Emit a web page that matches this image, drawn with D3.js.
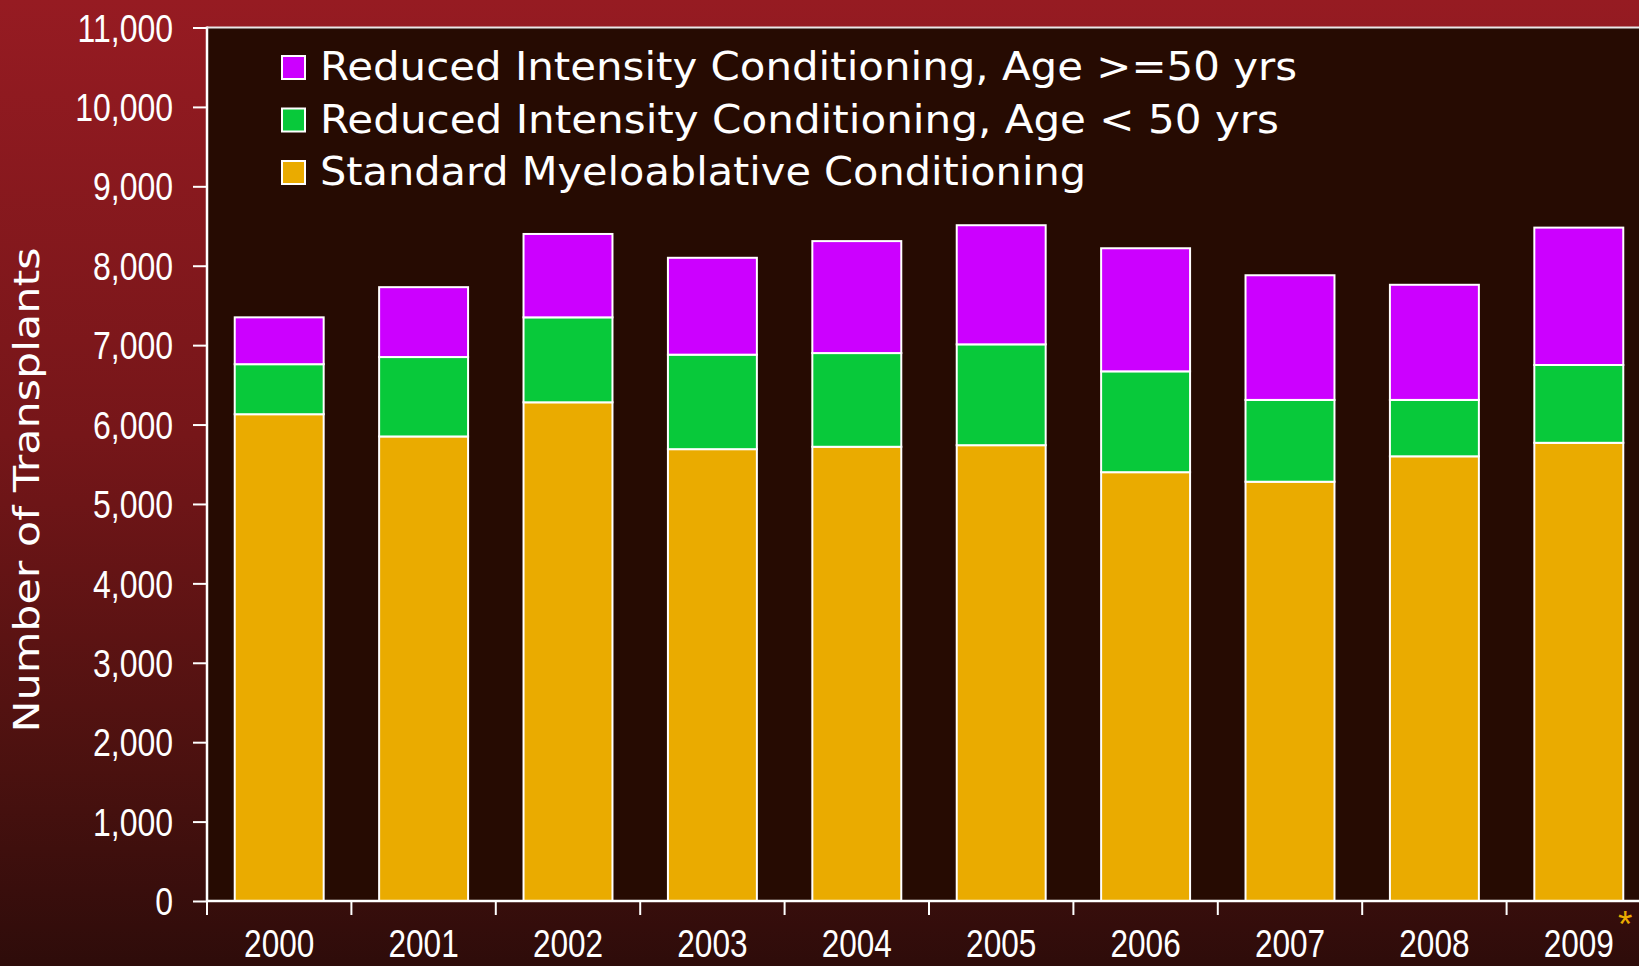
<!DOCTYPE html>
<html>
<head>
<meta charset="utf-8">
<script src="https://cdn.jsdelivr.net/npm/d3@7"></script>
<style>
  html, body { margin: 0; padding: 0; background: #2c0c0a; }
  svg { display: block; }
</style>
</head>
<body>
<svg id="chart" width="1639" height="966"></svg>
<script>
// ---- data ----
const years = ["2000","2001","2002","2003","2004","2005","2006","2007","2008","2009"];
const standardMAC = [6130, 5850, 6280, 5690, 5720, 5740, 5400, 5280, 5600, 5770];
const ricUnder50  = [630, 1000, 1070, 1190, 1180, 1270, 1270, 1030, 710, 980];
const ricOver50   = [590, 880, 1050, 1220, 1410, 1500, 1550, 1570, 1450, 1730];
const seriesNames = [
  "Standard Myeloablative Conditioning",
  "Reduced Intensity Conditioning, Age < 50 yrs",
  "Reduced Intensity Conditioning, Age >=50 yrs"
];
const seriesColors = ["#EAAB00", "#08C93A", "#CC00FF"];
const yTicks = [0,1000,2000,3000,4000,5000,6000,7000,8000,9000,10000,11000];
const yTitle = "Number of Transplants";

(function draw() {
const svg = d3.select("#chart");
const W = 1639, H = 966;
const pLeft = 207, pTop = 27.5, pBottom = 901;
const step = 144.4;
const pRight = pLeft + step * years.length;

const defs = svg.append("defs");
const grad = defs.append("linearGradient").attr("id","bg").attr("x1",0).attr("y1",0).attr("x2",0).attr("y2",1);
grad.append("stop").attr("offset","0%").attr("stop-color","#961b22");
grad.append("stop").attr("offset","45%").attr("stop-color","#761619");
grad.append("stop").attr("offset","80%").attr("stop-color","#4a110f");
grad.append("stop").attr("offset","100%").attr("stop-color","#2e0c0a");

svg.append("rect").attr("width",W).attr("height",H).attr("fill","url(#bg)");
svg.append("rect").attr("x",pLeft).attr("y",pTop).attr("width",W - pLeft + 20).attr("height",pBottom - pTop).attr("fill","#260b02");

const x = d3.scaleBand().domain(years).range([pLeft, pRight]).paddingInner(0.384).paddingOuter(0.192);
const y = d3.scaleLinear().domain([0, 11000]).range([pBottom, pTop]);

const table = years.map((yr,i) => ({year: yr, s0: standardMAC[i], s1: ricUnder50[i], s2: ricOver50[i]}));
const stack = d3.stack().keys(["s0","s1","s2"])(table);

svg.append("g").selectAll("g").data(stack).join("g")
  .attr("fill", (d,i) => seriesColors[i])
  .selectAll("rect").data(d => d).join("rect")
  .attr("x", d => x(d.data.year))
  .attr("width", x.bandwidth())
  .attr("y", d => y(d[1]))
  .attr("height", d => y(d[0]) - y(d[1]))
  .attr("stroke", "#ffffff")
  .attr("stroke-width", 2);

const numFont = "'Liberation Sans',Arial,sans-serif";
function narrow(sel) {
  sel.each(function() {
    const len = this.getComputedTextLength();
    d3.select(this).attr("textLength", len * 0.82).attr("lengthAdjust","spacingAndGlyphs");
  });
}
const yAxis = svg.append("g").attr("transform", `translate(${pLeft},0)`)
  .call(d3.axisLeft(y).tickValues(yTicks).tickFormat(d3.format(",")).tickSize(14).tickPadding(20));
yAxis.select(".domain").remove();
yAxis.selectAll("line").attr("stroke","#ffffff").attr("stroke-width",2);
yAxis.selectAll("text").attr("fill","#ffffff").attr("font-family",numFont).attr("font-size",39).attr("dy","0.35em").call(narrow);

const xAxis = svg.append("g").attr("transform", `translate(0,${pBottom})`)
  .call(d3.axisBottom(x).tickSize(0).tickPadding(29));
xAxis.select(".domain").remove();
xAxis.selectAll("text").attr("fill","#ffffff").attr("font-family",numFont).attr("font-size",38.5).call(narrow);

svg.append("g").selectAll("line").data(d3.range(years.length + 1)).join("line")
  .attr("x1", i => x.range()[0] + i * x.step())
  .attr("x2", i => x.range()[0] + i * x.step())
  .attr("y1", pBottom).attr("y2", pBottom + 14)
  .attr("stroke","#ffffff").attr("stroke-width",2);

svg.append("line").attr("x1",pLeft).attr("x2",pLeft).attr("y1",pTop - 1).attr("y2",pBottom + 1).attr("stroke","#ffffff").attr("stroke-width",2.5);
svg.append("line").attr("x1",pLeft - 1).attr("x2",W + 10).attr("y1",pBottom).attr("y2",pBottom).attr("stroke","#ffffff").attr("stroke-width",2.5);
svg.append("line").attr("x1",pLeft).attr("x2",W + 10).attr("y1",pTop).attr("y2",pTop).attr("stroke","#e8e8e8").attr("stroke-width",2);

svg.append("text").attr("x", x("2009") + x.bandwidth() + 2).attr("y", 937)
  .attr("text-anchor","middle").attr("fill","#EAAB00")
  .attr("font-family","'Liberation Sans',Arial,sans-serif").attr("font-size",37).text("*");

svg.append("text").attr("transform","translate(39,490) rotate(-90)")
  .attr("text-anchor","middle").attr("fill","#ffffff")
  .attr("font-family","'DejaVu Sans',Verdana,sans-serif").attr("font-size",36)
  .attr("textLength",485).attr("lengthAdjust","spacingAndGlyphs")
  .text(yTitle);

const legendOrder = [2,1,0];
const legendLen = [977, 959, 766];
const lg = svg.append("g");
legendOrder.forEach((si, r) => {
  const ty = 80 + r * 52.5;
  lg.append("rect").attr("x",282).attr("y",ty - 24).attr("width",23).attr("height",23)
    .attr("fill",seriesColors[si]).attr("stroke","#ffffff").attr("stroke-width",2);
  lg.append("text").attr("x",320).attr("y",ty).attr("fill","#ffffff")
    .attr("font-family","'DejaVu Sans',Verdana,sans-serif").attr("font-size",38.8)
    .attr("textLength",legendLen[r]).attr("lengthAdjust","spacingAndGlyphs")
    .text(seriesNames[si]);
});
})();
</script>
</body>
</html>
